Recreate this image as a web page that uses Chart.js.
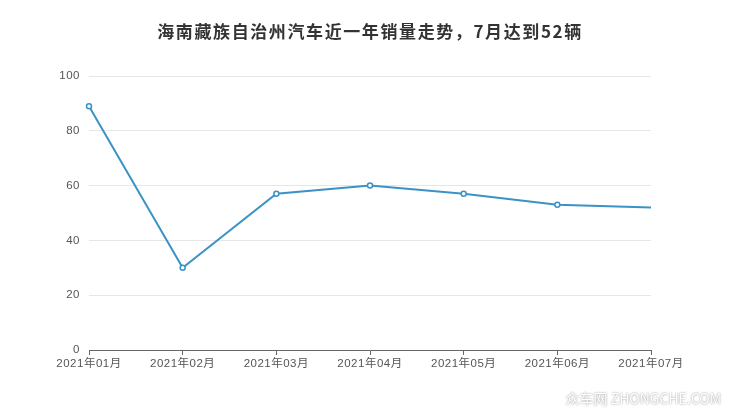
<!DOCTYPE html>
<html><head><meta charset="utf-8">
<script src="https://cdn.jsdelivr.net/npm/chart.js@4"></script>
<style>html,body{margin:0;padding:0;background:#fff}#wrap{width:740px;height:417px}</style>
</head><body><div id="wrap"><canvas id="c"></canvas></div>
<script>
const titleText = '海南藏族自治州汽车近一年销量走势，7月达到52辆';
const categories = ['2021年01月','2021年02月','2021年03月','2021年04月','2021年05月','2021年06月','2021年07月'];
const salesValues = [89, 30, 57, 60, 57, 53, 52];
const yTicks = [0, 20, 40, 60, 80, 100];

const fontFam = "'Liberation Sans','Noto Sans CJK SC',sans-serif";

const deco = {
  id: 'deco',
  beforeDraw(chart) { chart.ctx.letterSpacing = '0.5px'; },
  afterDraw(chart) {
    const ctx = chart.ctx;
    ctx.save();
    ctx.letterSpacing = '1.6px';
    ctx.fillStyle = '#333';
    ctx.font = "bold 17px 'Noto Sans CJK SC','Liberation Sans',sans-serif";
    ctx.textAlign = 'center';
    ctx.textBaseline = 'middle';
    ctx.fillText(titleText, 370, 32);
    ctx.letterSpacing = '0px';
    ctx.font = "14px 'Noto Sans CJK SC','Liberation Sans',sans-serif";
    ctx.textAlign = 'right';
    ctx.shadowColor = 'rgba(0,0,0,0.5)';
    ctx.shadowBlur = 2;
    ctx.fillStyle = '#fff';
    ctx.fillText('众车网 ZHONGCHE.COM', 721, 399);
    ctx.restore();
  }
};

new Chart(document.getElementById('c'), {
  type: 'line',
  data: {
    labels: categories,
    datasets: [{
      data: salesValues,
      borderColor: '#3a92c5',
      borderWidth: 2,
      backgroundColor: '#fff',
      pointBackgroundColor: '#fff',
      pointBorderColor: '#3a92c5',
      pointBorderWidth: 1.5,
      pointRadius: salesValues.map((v, i) => i === salesValues.length - 1 ? 0 : 2.5),
      tension: 0,
      clip: false
    }]
  },
  options: {
    responsive: true,
    maintainAspectRatio: false,
    animation: false,
    layout: { padding: { top: 76, right: 89, left: 0, bottom: 0 } },
    plugins: { legend: { display: false }, title: { display: false }, tooltip: { enabled: false } },
    scales: {
      x: {
        offset: false,
        afterFit(s) { s.height = 67; },
        grid: { display: true, drawOnChartArea: false, drawTicks: true, tickLength: 5, color: '#666' },
        border: { display: true, color: '#666', width: 1 },
        ticks: { color: '#555', font: { family: fontFam, size: 11.5 }, maxRotation: 0, autoSkip: false, padding: 2 }
      },
      y: {
        min: 0, max: 100,
        afterFit(s) { s.width = 89; },
        afterBuildTicks(s) { s.ticks = yTicks.map(v => ({ value: v })); },
        grid: { color: '#e6e6e6', drawTicks: false },
        border: { display: false },
        ticks: { color: '#555', font: { family: fontFam, size: 11.5 }, padding: 9 }
      }
    }
  },
  plugins: [deco]
});
</script>
</body></html>
